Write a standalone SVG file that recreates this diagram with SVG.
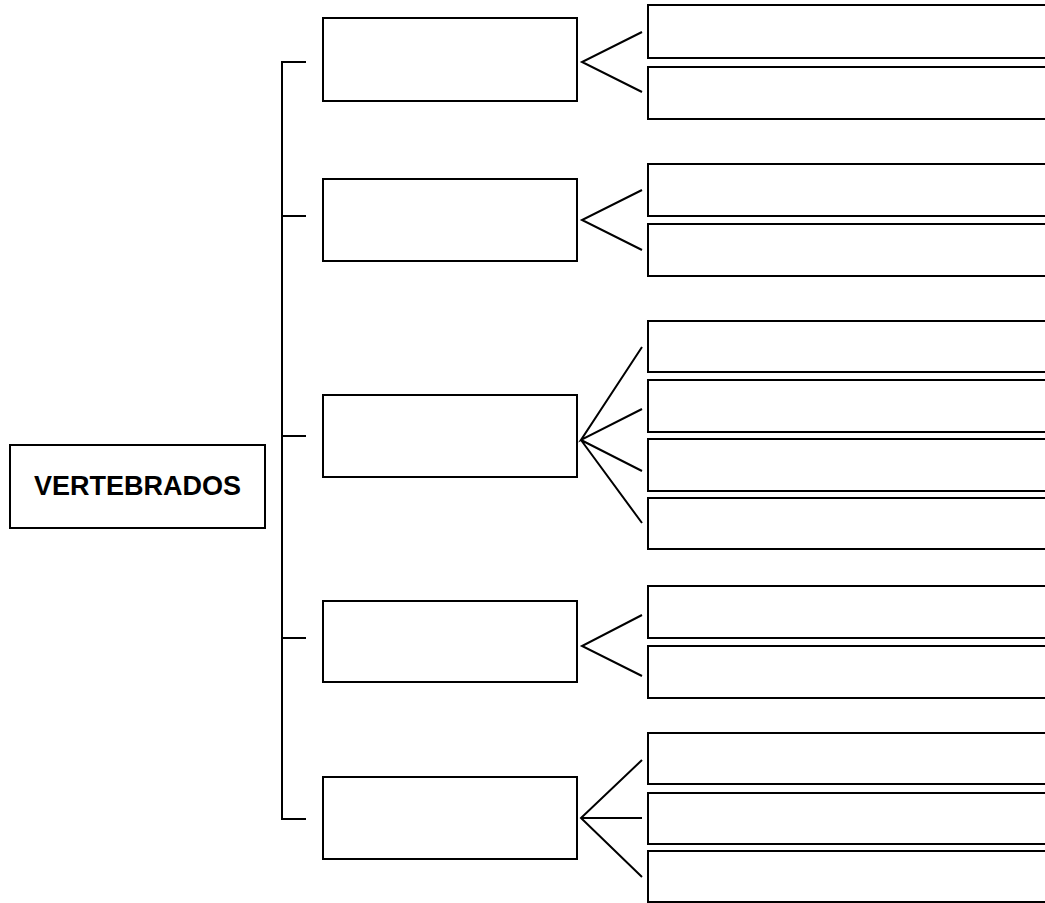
<svg xmlns="http://www.w3.org/2000/svg" width="1045" height="903" viewBox="0 0 1045 903">
<style>
.b{fill:#fff;stroke:#000;stroke-width:2}
.c{fill:none;stroke:#000;stroke-width:2;stroke-linecap:butt;stroke-linejoin:miter}
.t{font-family:"Century Gothic","URW Gothic","Liberation Sans",sans-serif;font-weight:bold;font-size:27px;fill:#000}
</style>
<rect width="1045" height="903" fill="#fff"/>
<g id="root"><rect class="b" x="10" y="445" width="255" height="83"/><text class="t" x="137.5" y="495" text-anchor="middle">VERTEBRADOS</text></g>
<g id="connectors">
<path class="c" d="M306 62H282V819H306M282 216H306M282 436H306M282 638H306M282 819H306"/>
<path class="c" d="M642 32L582 62L642 92"/>
<path class="c" d="M642 190L582 220L642 250"/>
<path class="c" d="M642 347L581 440L642 409M581 440L642 471M581 440L642 523"/>
<path class="c" d="M642 615L582 646L642 676"/>
<path class="c" d="M642 760L581 818L642 877M581 818H642"/>
</g>
<g id="n1"><rect class="b" x="323" y="18" width="254" height="83"/></g>
<g id="n1a"><rect class="b" x="648" y="5" width="420" height="53"/></g>
<g id="n1b"><rect class="b" x="648" y="67" width="420" height="52"/></g>
<g id="n2"><rect class="b" x="323" y="179" width="254" height="82"/></g>
<g id="n2a"><rect class="b" x="648" y="164" width="420" height="52"/></g>
<g id="n2b"><rect class="b" x="648" y="224" width="420" height="52"/></g>
<g id="n3"><rect class="b" x="323" y="395" width="254" height="82"/></g>
<g id="n3a"><rect class="b" x="648" y="321" width="420" height="51"/></g>
<g id="n3b"><rect class="b" x="648" y="380" width="420" height="52"/></g>
<g id="n3c"><rect class="b" x="648" y="439" width="420" height="52"/></g>
<g id="n3d"><rect class="b" x="648" y="498" width="420" height="51"/></g>
<g id="n4"><rect class="b" x="323" y="601" width="254" height="81"/></g>
<g id="n4a"><rect class="b" x="648" y="586" width="420" height="52"/></g>
<g id="n4b"><rect class="b" x="648" y="646" width="420" height="52"/></g>
<g id="n5"><rect class="b" x="323" y="777" width="254" height="82"/></g>
<g id="n5a"><rect class="b" x="648" y="733" width="420" height="51"/></g>
<g id="n5b"><rect class="b" x="648" y="793" width="420" height="51"/></g>
<g id="n5c"><rect class="b" x="648" y="851" width="420" height="51"/></g>
</svg>
